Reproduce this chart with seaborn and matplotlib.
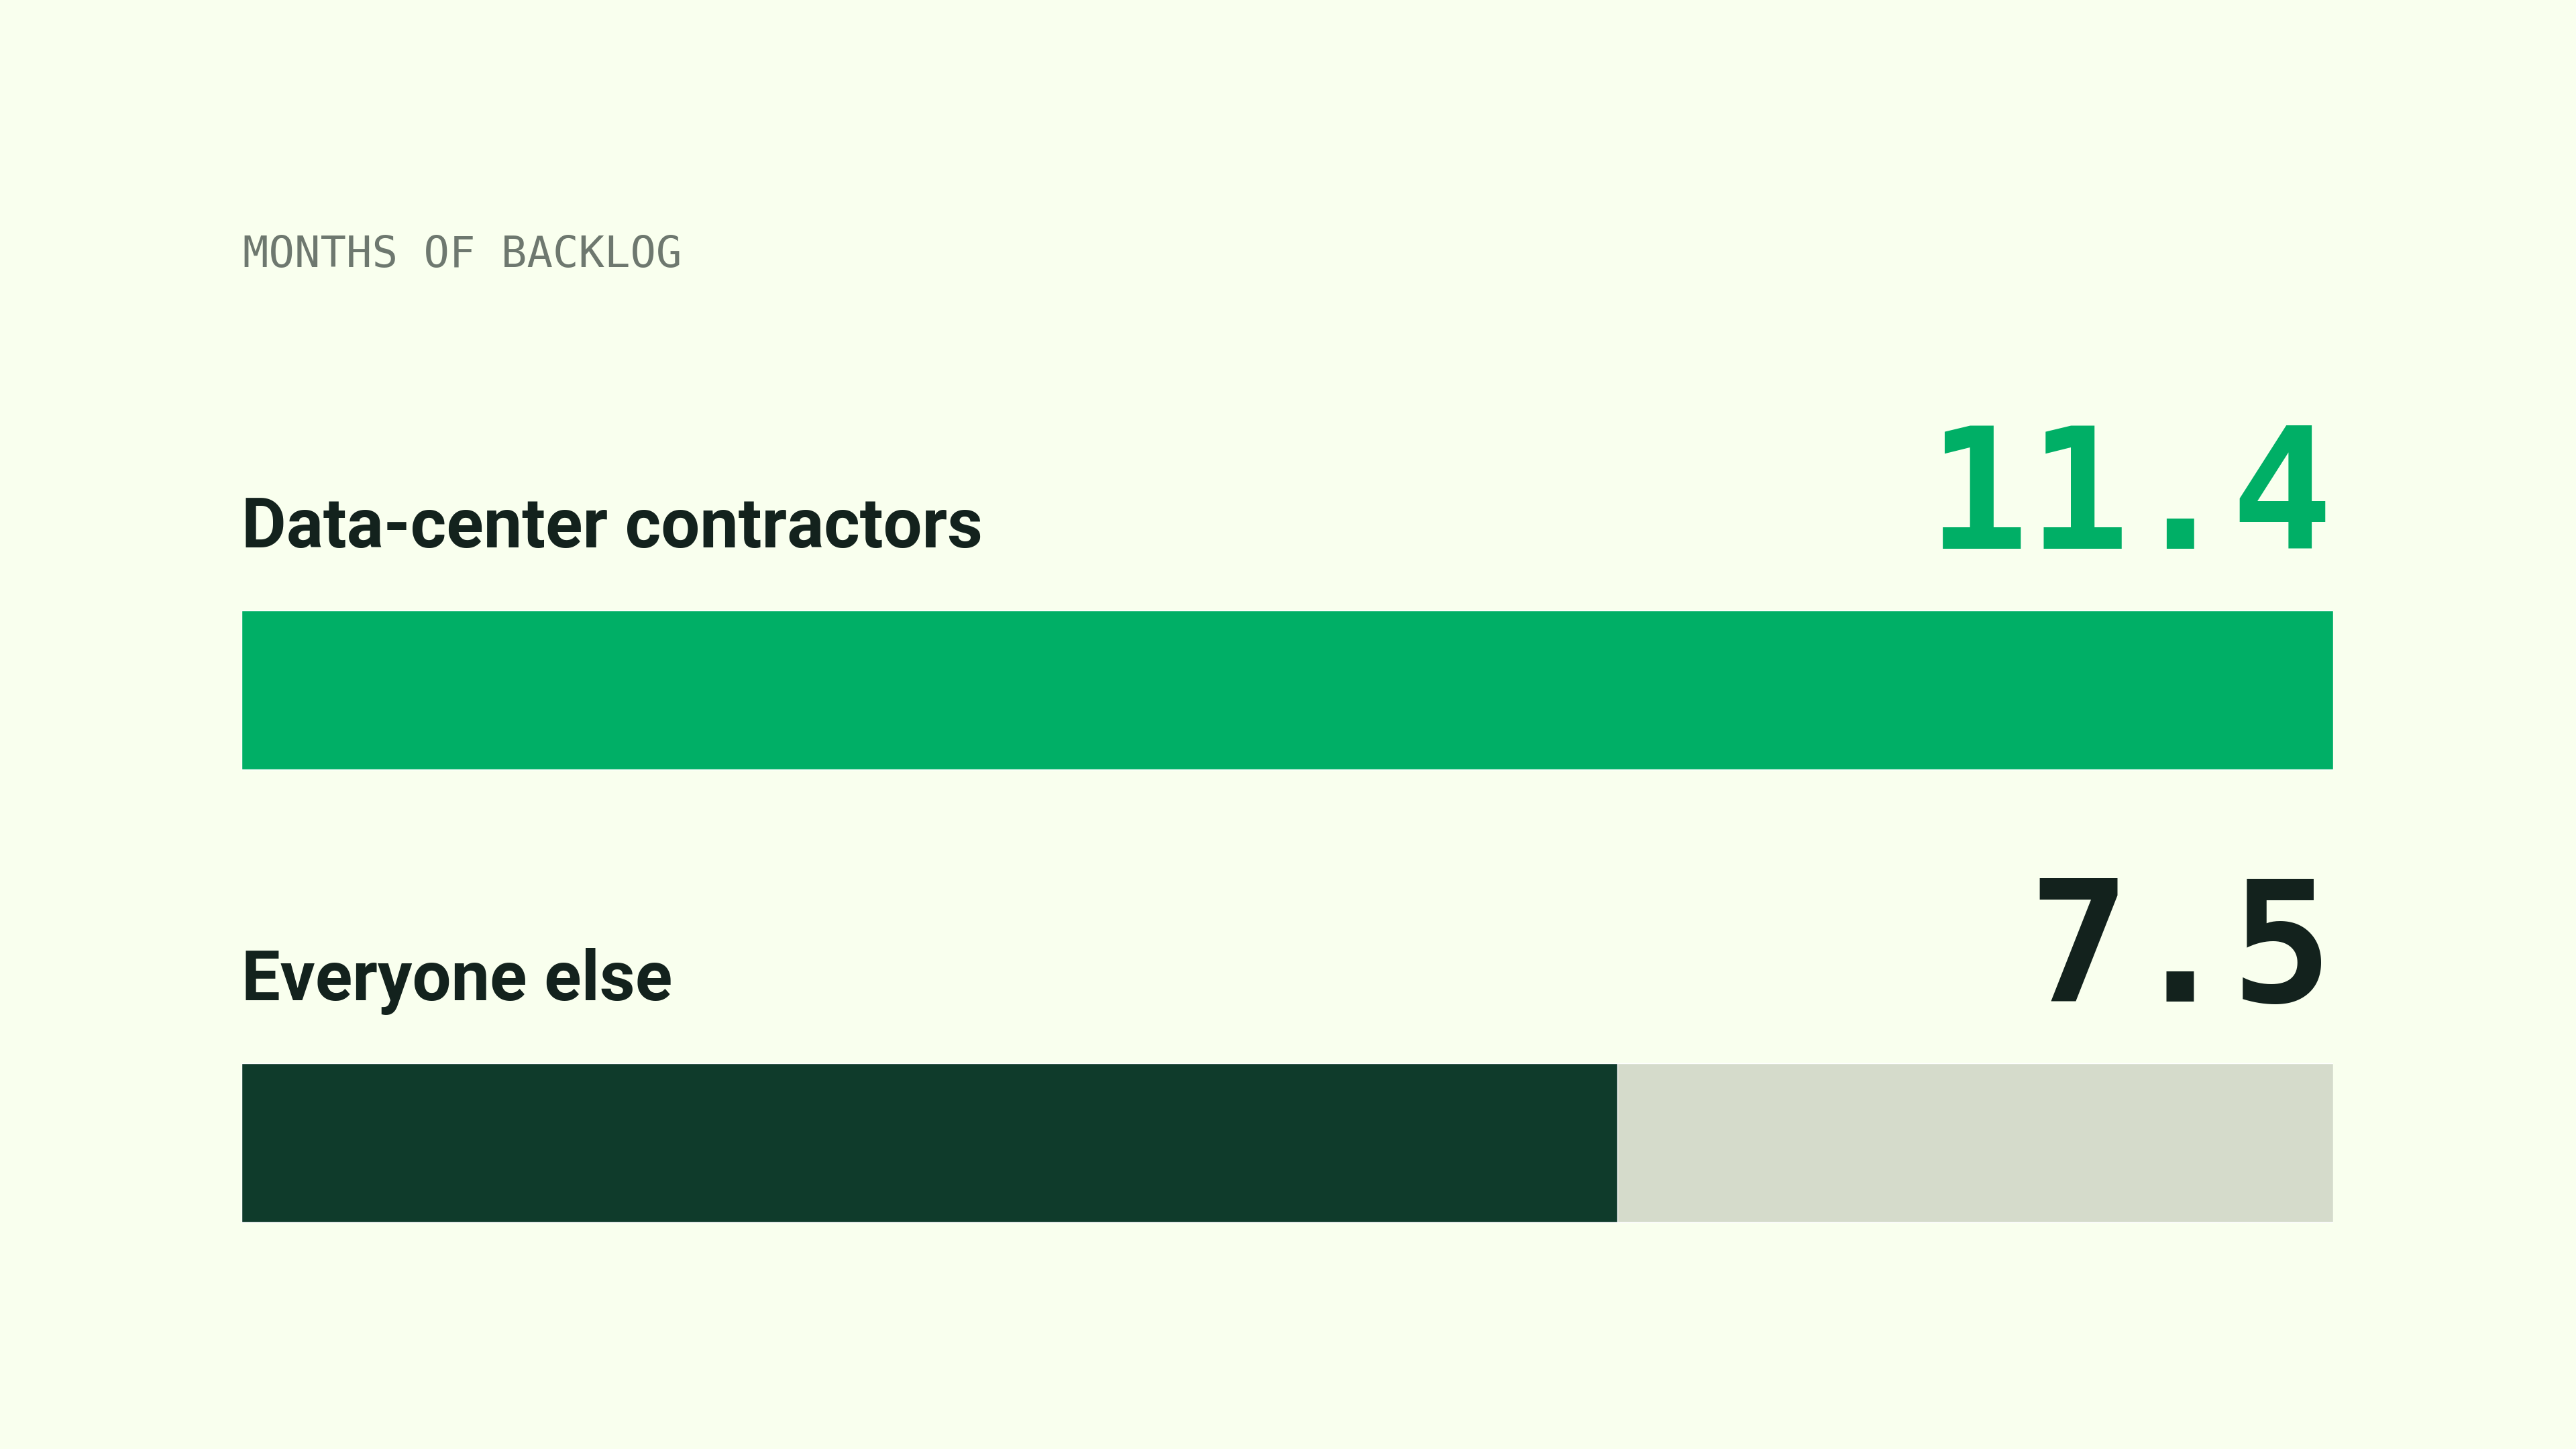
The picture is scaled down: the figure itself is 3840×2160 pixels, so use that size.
import matplotlib
matplotlib.use("Agg")
import matplotlib.pyplot as plt
import seaborn as sns
import pandas as pd

categories = ["Data-center contractors", "Everyone else"]
values = [11.4, 7.5]
value_labels = ["11.4", "7.5"]
title = "MONTHS OF BACKLOG"

BG = "#F9FFEE"
GREEN = "#00AF66"
DARK = "#0F3B2B"
TRACK = "#D5DBCB"
INK = "#13221D"
GREY = "#6E786F"

sns.set_theme(style="white")
plt.rcParams["font.family"] = ["Roboto", "DejaVu Sans"]

df = pd.DataFrame({"group": categories, "months": values})
df["track"] = max(values)

fig = plt.figure(figsize=(38.4, 21.6), dpi=100)
fig.patch.set_facecolor(BG)
ax = fig.add_axes([360 / 3840, 0, 3118 / 3840, 1])
ax.set_facecolor(BG)

# grey track behind each bar, then the value bar
sns.barplot(data=df, y="group", x="track", color=TRACK, width=0.352,
            orient="h", ax=ax, saturation=1)
sns.barplot(data=df, y="group", x="months", hue="group",
            palette=[GREEN, DARK], width=0.352, orient="h", ax=ax,
            saturation=1, legend=False)

ax.set_xlim(0, max(values))
ax.set_ylim(1.6763, -1.5237)
ax.set_xlabel("")
ax.set_ylabel("")
ax.set_xticks([])
ax.set_yticks([])
sns.despine(ax=ax, left=True, bottom=True)

val_colors = [GREEN, INK]
for i, (cat, lab) in enumerate(zip(categories, value_labels)):
    ax.text(0, i - 0.315, cat, ha="left", va="baseline", fontsize=74,
            fontweight="bold", color=INK)
    ax.text(max(values), i - 0.312, lab, ha="right", va="baseline",
            fontsize=181, fontweight="bold", color=val_colors[i],
            family=["DejaVu Sans Mono"])

fig.text(362 / 3840, 1 - 398 / 2160, title, ha="left", va="baseline",
         fontsize=46, color=GREY, family=["DejaVu Sans Mono"])

fig.savefig("out.png", dpi=100, facecolor=BG)
